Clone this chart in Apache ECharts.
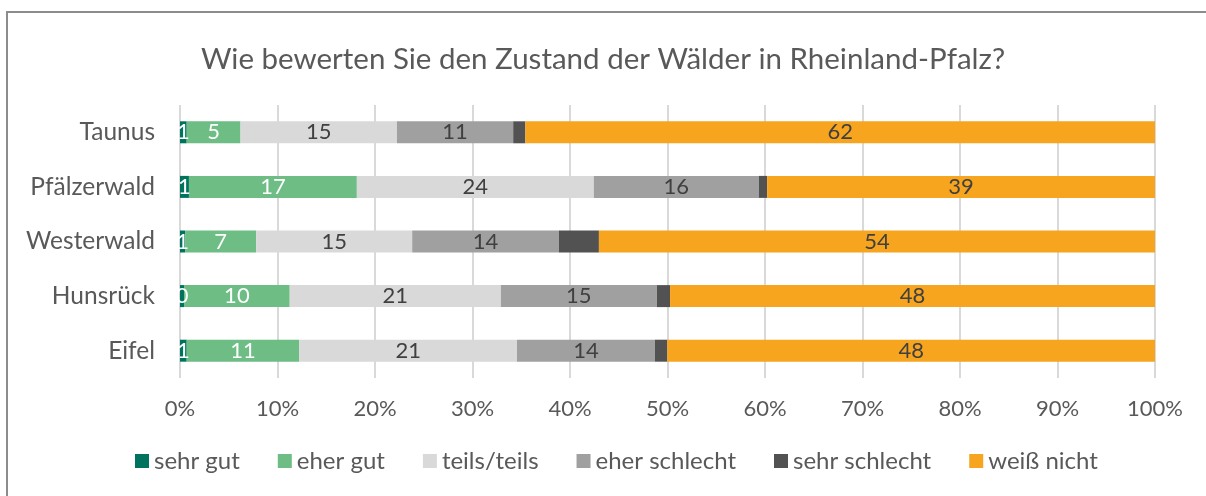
<!DOCTYPE html>
<html>
<head>
<meta charset="utf-8">
<script src="https://cdn.jsdelivr.net/npm/echarts@6/dist/echarts.min.js"></script>
<style>
  html, body { margin: 0; padding: 0; background: #fff; }
  #chart { width: 1206px; height: 496px; }
</style>
</head>
<body>
<div id="chart"></div>
<script>
// Regionen von oben nach unten
var regions = ['Taunus', 'Pfälzerwald', 'Westerwald', 'Hunsrück', 'Eifel']
var seriesNames = ['sehr gut', 'eher gut', 'teils/teils', 'eher schlecht', 'sehr schlecht', 'weiß nicht']
// Anteile in Prozent (aus dem Bild geschaetzt, Zeilen summieren nicht ganz auf 100)
var sehrGut = [0.66, 0.89, 0.5, 0.4, 0.66]
var eherGut = [5.3, 16.71, 6.93, 10.46, 11.09]
var teilsTeils = [15.4, 23.58, 15.2, 20.9, 21.43]
var eherSchlecht = [11.45, 16.43, 14.3, 15.44, 13.57]
var sehrSchlecht = [1.2, 0.82, 3.9, 1.31, 1.23]
var weissNicht = [62.0, 38.6, 54.2, 48.0, 48.02]
var xTicks = [0, 10, 20, 30, 40, 50, 60, 70, 80, 90, 100]

var raw = [sehrGut, eherGut, teilsTeils, eherSchlecht, sehrSchlecht, weissNicht]
var colors = ['#00735f', '#6dbd84', '#d9d9d9', '#a0a0a0', '#525252', '#f7a41e']
var labelColors = ['#ffffff', '#ffffff', '#404040', '#404040', '#404040', '#404040']
var showLabel = [true, true, true, true, false, true]
var fontFamily = 'Lato'

// 100%-Stapel: jede Zeile auf ihre Summe normieren
var rowSums = regions.map(function (r, i) {
  return raw.reduce(function (s, arr) { return s + arr[i] }, 0)
})

var chart = echarts.init(document.getElementById('chart'), null, { renderer: 'canvas' })

chart.setOption({
  animation: false,
  textStyle: { fontFamily: fontFamily },
  title: {
    text: 'Wie bewerten Sie den Zustand der Wälder in Rheinland-Pfalz?',
    left: 'center',
    top: 39,
    textStyle: { color: '#595959', fontWeight: 'normal', fontSize: 29.5, fontFamily: fontFamily }
  },
  graphic: [{
    type: 'rect',
    shape: { x: 7, y: 12, width: 1300, height: 600 },
    style: { fill: 'none', stroke: '#8c8c8c', lineWidth: 2 },
    silent: true
  }],
  legend: {
    bottom: 18,
    left: 130,
    itemWidth: 14,
    itemHeight: 14,
    itemGap: 38,
    icon: 'rect',
    textStyle: { color: '#595959', fontSize: 24, fontFamily: fontFamily },
    data: seriesNames
  },
  grid: { left: 180, right: 51, top: 105, bottom: 118 },
  xAxis: {
    type: 'value',
    min: xTicks[0],
    max: xTicks[xTicks.length - 1],
    interval: 10,
    axisLine: { show: false },
    axisTick: { show: false },
    axisLabel: { color: '#595959', fontSize: 22, margin: 20, formatter: '{value}%', fontFamily: fontFamily },
    splitLine: { lineStyle: { color: '#d9d9d9', width: 2 } }
  },
  yAxis: {
    type: 'category',
    inverse: true,
    data: regions,
    axisLine: { show: false },
    axisTick: { show: false },
    axisLabel: { color: '#595959', fontSize: 24.5, margin: 25, fontFamily: fontFamily }
  },
  series: seriesNames.map(function (name, k) {
    return {
      name: name,
      type: 'bar',
      stack: 'total',
      barWidth: 22,
      itemStyle: { color: colors[k] },
      label: {
        show: showLabel[k],
        position: 'inside',
        color: labelColors[k],
        fontSize: 22,
        fontFamily: fontFamily,
        formatter: function (p) { return Math.round(raw[k][p.dataIndex]) }
      },
      data: raw[k].map(function (v, i) { return v / rowSums[i] * 100 })
    }
  })
})
</script>
</body>
</html>
